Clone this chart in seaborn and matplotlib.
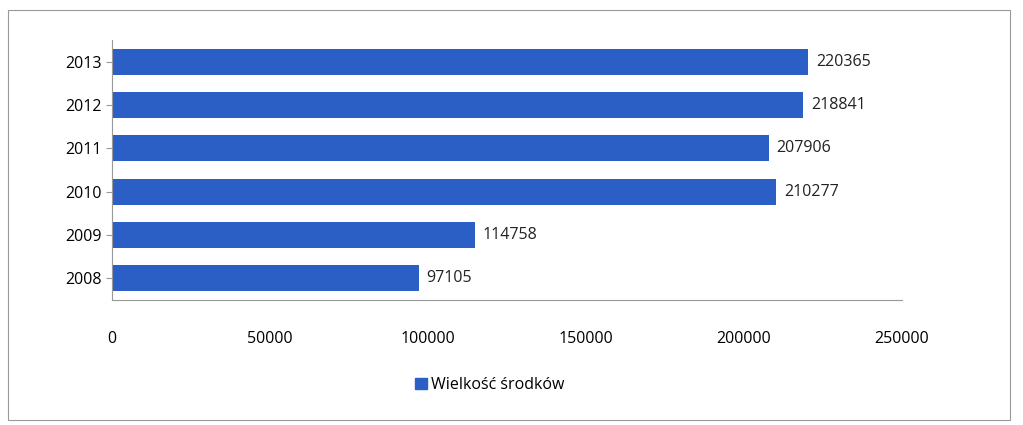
import matplotlib
matplotlib.use("Agg")
import matplotlib.pyplot as plt
import seaborn as sns
import pandas as pd
from matplotlib.patches import Rectangle

years = ["2013", "2012", "2011", "2010", "2009", "2008"]
values = [220365, 218841, 207906, 210277, 114758, 97105]
series_name = "Wielkość środków"
xticks = [0, 50000, 100000, 150000, 200000, 250000]

plt.rcParams["font.family"] = "Open Sans"
df = pd.DataFrame({"year": years, "value": values})

fig = plt.figure(figsize=(10.23, 4.25), dpi=100)
ax = fig.add_axes([0.1095, 0.294, 0.772, 0.612])
color = "#2b5fc6"
sns.barplot(data=df, x="value", y="year", order=years, color=color, width=0.6,
            orient="h", ax=ax, saturation=1)
for i, v in enumerate(values):
    ax.text(v + 2500, i, str(v), va="center", ha="left", fontsize=11.5, color="#222222")
ax.set_xlim(0, 250000)
ax.set_xticks(xticks)
ax.set_xticklabels([str(t) for t in xticks], fontsize=11.5)
ax.tick_params(axis="x", length=0, pad=22)
ax.tick_params(axis="y", length=4, color="#999999", labelsize=11.5)
ax.set_xlabel("")
ax.set_ylabel("")
for s in ["top", "right"]:
    ax.spines[s].set_visible(False)
for s in ["left", "bottom"]:
    ax.spines[s].set_color("#999999")
ax.legend(handles=[Rectangle((0, 0), 1, 1, color=color)], labels=[series_name],
          loc="center", bbox_to_anchor=(490 / 1023, 1 - 385 / 425),
          bbox_transform=fig.transFigure, frameon=False, fontsize=11.5,
          handlelength=0.7, handleheight=0.7, handletextpad=0.3)
fig.patches.append(Rectangle((8 / 1023, 5 / 425), 1002 / 1023, 410 / 425,
                             transform=fig.transFigure, fill=False,
                             edgecolor="#999999", linewidth=0.8))
fig.savefig("out.png", dpi=100)
